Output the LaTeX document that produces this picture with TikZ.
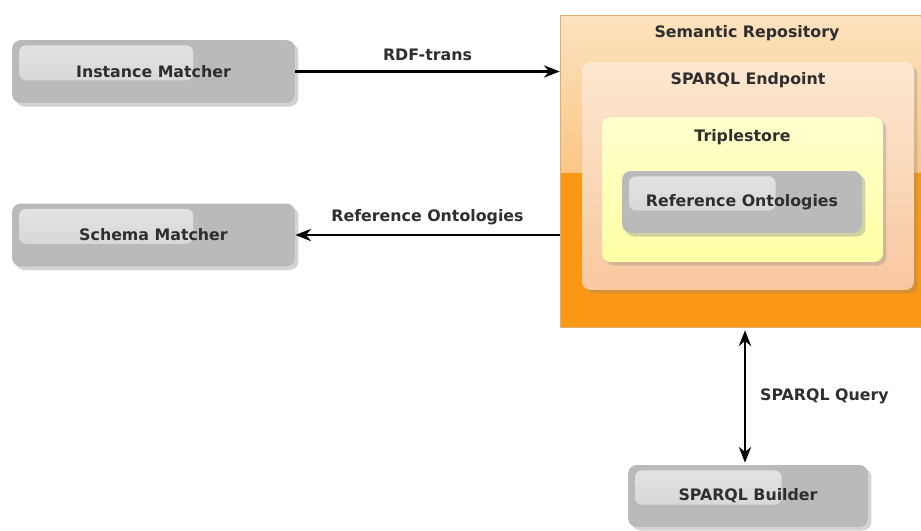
\documentclass[tikz,border=0pt]{standalone}
\usepackage{fontspec}
\setmainfont{DejaVu Sans}
\usetikzlibrary{arrows.meta, calc, shadows}

\definecolor{boxgray}{RGB}{186,186,186}
\definecolor{boxlight}{RGB}{228,228,228}
\definecolor{repoorange}{RGB}{250,152,22}
\definecolor{repotop}{RGB}{252,226,190}
\definecolor{repomid}{RGB}{250,198,134}
\definecolor{endtop}{RGB}{253,232,208}
\definecolor{endbot}{RGB}{248,200,160}
\definecolor{tripyellow}{RGB}{255,255,165}
\definecolor{triptop}{RGB}{255,255,205}

\tikzset{
    txt/.style={font=\bfseries\fontsize{9}{11}\selectfont, text=black!82},
    gbox/.style={txt, rounded corners=5pt, fill=boxgray, inner sep=0pt,
        drop shadow={opacity=0.35, shadow xshift=2pt, shadow yshift=-2pt},
        path picture={\shade[top color=boxlight, bottom color=boxlight!55!boxgray, rounded corners=4pt]
            ($(path picture bounding box.north west)+(4pt,-3pt)$) rectangle
            ($(path picture bounding box.north west)!0.64!(path picture bounding box.south east)$);}},
    conn/.style={line width=1.2pt, -{Stealth[length=9pt, width=7pt]}},
}

\begin{document}
\begin{tikzpicture}[x=0.02cm, y=-0.02cm]
    \useasboundingbox (0,0) rectangle (921,531);

    % matchers
    \node[gbox, minimum width=5.66cm, minimum height=1.26cm] (inst) at (153.5,71.5) {Instance Matcher};
    \node[gbox, minimum width=5.66cm, minimum height=1.26cm] (schema) at (153.5,235) {Schema Matcher};

    % semantic repository
    \node[draw=repoorange!80!black!60, fill=repoorange, minimum width=7.22cm, minimum height=6.24cm] (repo) at (740.5,171) {};
    \shade[top color=repotop, bottom color=repomid] (561,16) rectangle (920.5,172);
    \node[txt] (repotitle) at (747,33) {Semantic Repository};

    % sparql endpoint
    \node[rounded corners=5pt, top color=endtop, bottom color=endbot, minimum width=6.64cm, minimum height=4.56cm,
        drop shadow={opacity=0.3, shadow xshift=2pt, shadow yshift=-2pt}] (endp) at (748,176) {};
    \node[txt] (endptitle) at (748,80) {SPARQL Endpoint};

    % triplestore
    \node[rounded corners=5pt, top color=triptop, bottom color=tripyellow, minimum width=5.62cm, minimum height=2.9cm,
        drop shadow={opacity=0.3, shadow xshift=2pt, shadow yshift=-2pt}] (trip) at (742.5,189.5) {};
    \node[txt] (triptitle) at (742.5,137) {Triplestore};
    \node[gbox, minimum width=4.8cm, minimum height=1.24cm] (refont) at (742,202) {Reference Ontologies};

    % builder
    \node[gbox, minimum width=4.8cm, minimum height=1.24cm] (builder) at (748,496) {SPARQL Builder};

    % connectors
    \draw[conn] (inst.east) -- node[txt, above=2pt] (rdf) {RDF-trans} (inst.east -| repo.west);
    \draw[conn] (schema.east -| repo.west) -- node[txt, above=2pt] (refl) {Reference Ontologies} (schema.east);
    \draw[conn, {Stealth[length=9pt, width=7pt]}-{Stealth[length=9pt, width=7pt]}]
        ($(builder.north |- repo.south)+(-3,3)$) coordinate (qtop) -- ($(builder.north)+(-3,-2)$) coordinate (qbot);
    \node[txt, anchor=west] (query) at ($(qtop)!0.5!(qbot)+(9,0)$) {SPARQL Query};
\end{tikzpicture}
\end{document}
